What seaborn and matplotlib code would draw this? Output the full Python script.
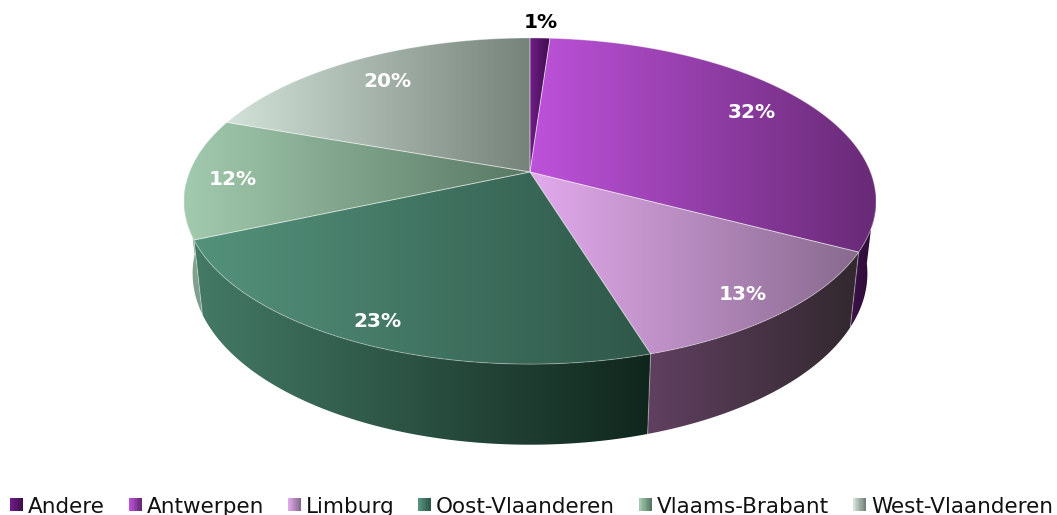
import numpy as np
import matplotlib
matplotlib.use("Agg")
import matplotlib.pyplot as plt
from matplotlib.legend_handler import HandlerBase
from matplotlib.patches import Patch, Polygon, Rectangle
import seaborn as sns

categories = ["Andere", "Antwerpen", "Limburg", "Oost-Vlaanderen", "Vlaams-Brabant", "West-Vlaanderen"]
values = [1.1, 31.6, 12.55, 23.2, 11.95, 19.6]
top_left = ["#6f1c86", "#bd52da", "#e2aaec", "#54927c", "#a2caae", "#d2e2d8"]
top_right = ["#3e0f4c", "#682a76", "#886a8e", "#2f5749", "#587864", "#76837a"]
side_left = ["#3e1048", "#3c1248", "#604060", "#447a66", "#8aa898", "#777f79"]
side_right = ["#2c0c36", "#2a0c34", "#32282e", "#10261c", "#7d9a8a", "#777f79"]
label_radius = [1.135, 0.805, 0.877, 0.895, 0.866, 0.794]
label_turn = [0, -0.7, 0.9, 0.8, -0.9, -0.8]
label_color = ["black", "white", "white", "white", "white", "white"]

sns.set_theme(style="white")
plt.rcParams["font.family"] = ["DejaVu Sans"]
fig = plt.figure(figsize=(10.57, 5.15), dpi=100)
ax = fig.add_axes([0, 0, 1, 1])
ax.set_xlim(0, 1057)
ax.set_ylim(515, 0)
ax.axis("off")

PERSP = 0.178
TOP = dict(cx=530.0, cy=172.0, a=340.5, b=157.9)
BOT = dict(cx=530.0, cy=243.0, a=332.0, b=165.8)


def project(theta_deg, r, plane):
    t = np.radians(theta_deg)
    u, v = r * np.sin(t), r * np.cos(t)
    w = 1 + PERSP * v
    return np.column_stack([plane["cx"] + plane["a"] * u / w, plane["cy"] - plane["b"] * v / w])


def fill(poly, c0, c1, z):
    xs, ys = poly[:, 0], poly[:, 1]
    ramp = sns.blend_palette([c0, c1], 128)
    img = np.array(ramp)[None, :, :]
    im = ax.imshow(img, extent=(xs.min(), xs.max(), ys.max(), ys.min()), aspect="auto",
                   interpolation="bilinear", zorder=z)
    clip = Polygon(poly, closed=True, transform=ax.transData, fc="none", ec="none")
    ax.add_patch(clip)
    im.set_clip_path(clip)


edges = np.concatenate([[0], np.cumsum(values)]) / np.sum(values) * 360
for i in range(len(values)):
    a0, a1 = edges[i], edges[i + 1]
    # wall: only the front-facing stretch of the rim is visible
    s0, s1 = max(a0, 97), min(a1, 266)
    if s1 > s0:
        th = np.linspace(s0, s1, 120)
        wall = np.vstack([project(th, 1, TOP), project(th[::-1], 1, BOT)])
        fill(wall, side_left[i], side_right[i], 2)
    th = np.linspace(a0, a1, 200)
    rim = project(th, 1, TOP)
    poly = np.vstack([[TOP["cx"], TOP["cy"]], rim])
    fill(poly, top_left[i], top_right[i], 3)
    ax.add_patch(Polygon(poly, closed=True, fc="none", ec=(1, 1, 1, 0.35), lw=0.7, zorder=4))
    if 97 < a1 < 266:
        seam = np.vstack([project(np.array([a1]), 1, TOP), project(np.array([a1]), 1, BOT)])
        ax.plot(seam[:, 0], seam[:, 1], color=(1, 1, 1, 0.35), lw=0.8, zorder=2.5)
    mid = (a0 + a1) / 2 + label_turn[i]
    p = project(np.array([mid]), label_radius[i], TOP)[0]
    ax.text(p[0], p[1], f"{values[i]:.0f}%", color=label_color[i], ha="center", va="center",
            fontsize=14.5, fontweight="bold", zorder=5)
ax.set_xlim(0, 1057)
ax.set_ylim(515, 0)


class GradientHandle(HandlerBase):
    def create_artists(self, legend, orig, xd, yd, width, height, fontsize, trans):
        i = orig.get_label_index
        ramp = sns.blend_palette([top_left[i], top_right[i]], 8)
        size = 13 / 100 * 72
        y0 = -yd + (height - size) / 2 + 1
        arts = []
        for k, c in enumerate(ramp):
            arts.append(Rectangle((-xd + k * size / 8, y0), size / 8 + 0.1, size, fc=c, ec="none", transform=trans))
        return arts


handles = []
for i, name in enumerate(categories):
    h = Patch(label=name)
    h.get_label_index = i
    handles.append(h)
fig.legend(handles=handles, handler_map={Patch: GradientHandle()}, loc="lower left",
           bbox_to_anchor=(10 / 1057, -2 / 515), ncol=6, frameon=False, fontsize=15.5, borderpad=0,
           borderaxespad=0, handlelength=0.6, handletextpad=0.23, columnspacing=1.11, labelcolor="#111111")
fig.savefig("out.png", dpi=100)
